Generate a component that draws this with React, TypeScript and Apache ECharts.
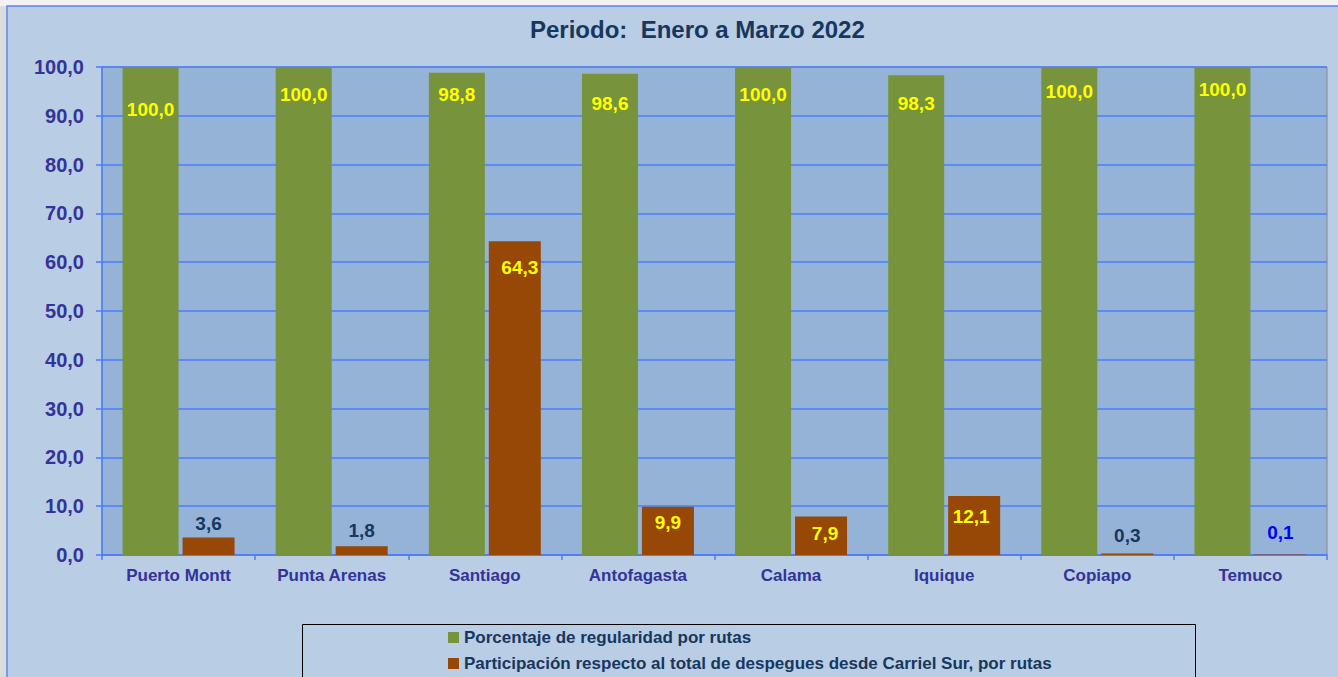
import React, { useEffect, useRef } from "react";
import * as echarts from "echarts";

const categories = ["Puerto Montt", "Punta Arenas", "Santiago", "Antofagasta", "Calama", "Iquique", "Copiapo", "Temuco"];
const regularidad = [100.0, 100.0, 98.8, 98.6, 100.0, 98.3, 100.0, 100.0];
const participacion = [3.6, 1.8, 64.3, 9.9, 7.9, 12.1, 0.3, 0.1];
const seriesNames = [
  "Porcentaje de regularidad por rutas",
  "Participación respecto al total de despegues desde Carriel Sur, por rutas",
];
const titleText = "Periodo:  Enero a Marzo 2022";
const yMin = 0;
const yMax = 100;
const yStep = 10;

// label placement (styling only)
const greenLabelDy = [42, 27, 22, 30, 27, 28, 24, 22];
const orangeLabelDy = [-14, -16, 26, 16, 17, 21, -18, -22];
const orangeLabelDx = [0, 0, 5, 0, 4, -3, 0, 0];
const orangeLabelColor = ["#17375e", "#17375e", "#ffff00", "#ffff00", "#ffff00", "#ffff00", "#17375e", "#0000ff"];

const FONT = "'Liberation Sans', Arial, sans-serif";
const fmt = (v: number) => v.toFixed(1).replace(".", ",");

export default function App() {
  const ref = useRef<HTMLDivElement>(null);
  useEffect(() => {
    if (!ref.current) return;
    const chart = echarts.init(ref.current, null, { renderer: "svg" });
    const option: any = {
      animation: false,
      backgroundColor: "transparent",
      textStyle: { fontFamily: FONT },
      graphic: [
        { type: "rect", z: -10, shape: { x: 0, y: 0, width: 1338, height: 677 }, style: { fill: "#f2f2f2" } },
        { type: "rect", z: -10, shape: { x: 0, y: 6, width: 7, height: 677 }, style: { fill: "#dcdcdc" } },
        {
          type: "rect",
          z: -9,
          shape: { x: 7, y: 6, width: 1340, height: 680 },
          style: { fill: "#b9cde4", stroke: "#5b84f5", lineWidth: 1.5 },
        },
        {
          type: "rect",
          z: 5,
          shape: { x: 302.5, y: 624.5, width: 893, height: 60 },
          style: { fill: "none", stroke: "#000000", lineWidth: 1 },
        },
      ],
      title: {
        text: titleText,
        left: 530,
        top: 17,
        padding: 0,
        textStyle: { fontFamily: FONT, fontSize: 24, fontWeight: "bold", color: "#17375e" },
      },
      legend: {
        orient: "vertical",
        left: 448,
        top: 629,
        padding: 0,
        itemWidth: 11,
        itemHeight: 11,
        itemGap: 9,
        itemTextGap: 3,
        icon: "rect",
        data: seriesNames,
        textStyle: { fontFamily: FONT, fontSize: 17, fontWeight: "bold", color: "#17375e", lineHeight: 17 },
      },
      grid: {
        left: 102,
        right: 11,
        top: 67,
        bottom: 122,
        show: true,
        backgroundColor: "#95b3d7",
        borderColor: "#888888",
        borderWidth: 1,
      },
      xAxis: {
        type: "category",
        data: categories,
        axisLine: { lineStyle: { color: "#4d7cff", width: 1.5 } },
        axisTick: { show: true, length: 5, lineStyle: { color: "#4d7cff", width: 1.5 } },
        axisLabel: { fontFamily: FONT, fontSize: 17, fontWeight: "bold", color: "#333399", margin: 12 },
      },
      yAxis: {
        type: "value",
        min: yMin,
        max: yMax,
        interval: yStep,
        axisLine: { show: true, lineStyle: { color: "#4d7cff", width: 1.5 } },
        axisTick: { show: true, length: 6, lineStyle: { color: "#4d7cff", width: 1.5 } },
        splitLine: { lineStyle: { color: "#4d7cff", width: 1.5 } },
        axisLabel: {
          fontFamily: FONT,
          fontSize: 20,
          fontWeight: "bold",
          color: "#333399",
          margin: 18,
          formatter: (v: number) => fmt(v),
        },
      },
      series: [
        {
          name: seriesNames[0],
          type: "bar",
          barWidth: 56,
          barGap: "7.1%",
          itemStyle: { color: "#77933c" },
          data: regularidad.map((v, i) => ({
            value: v,
            label: {
              show: true,
              position: ["50%", greenLabelDy[i]],
              align: "center",
              verticalAlign: "middle",
              formatter: () => fmt(v),
              fontFamily: FONT,
              fontSize: 19,
              fontWeight: "bold",
              color: "#ffff00",
            },
          })),
        },
        {
          name: seriesNames[1],
          type: "bar",
          barWidth: 52,
          itemStyle: { color: "#974706" },
          data: participacion.map((v, i) => ({
            value: v,
            label: {
              show: true,
              position: ["50%", orangeLabelDy[i]],
              offset: [orangeLabelDx[i], 0],
              align: "center",
              verticalAlign: "middle",
              formatter: () => fmt(v),
              fontFamily: FONT,
              fontSize: 19,
              fontWeight: "bold",
              color: orangeLabelColor[i],
            },
          })),
        },
      ],
    };
    chart.setOption(option);
    return () => chart.dispose();
  }, []);
  return (
    <div style={{ position: "fixed", left: 0, top: 0, width: 1338, height: 677, background: "#f2f2f2" }}>
      <div ref={ref} style={{ width: 1338, height: 677 }} />
    </div>
  );
}
